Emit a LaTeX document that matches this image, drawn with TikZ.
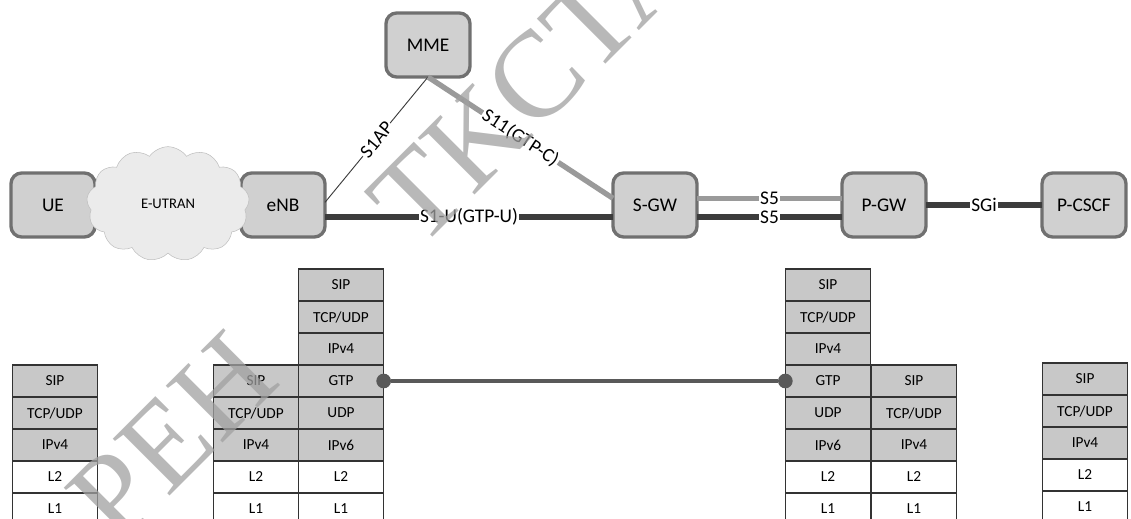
\documentclass[tikz,border=0pt]{standalone}
\usepackage{fontspec}
\setmainfont{Carlito}
\newfontfamily\markfont{Liberation Serif}
\usetikzlibrary{positioning,shapes.symbols}
\definecolor{boxgray}{HTML}{D0D0D0}
\definecolor{edgegray}{HTML}{707070}
\definecolor{layergray}{HTML}{C8C8C8}
\definecolor{darkline}{HTML}{3C3C3C}
\definecolor{lightline}{HTML}{9A9A9A}
\definecolor{markgray}{HTML}{A0A0A0}
\tikzset{
  elem/.style={draw=edgegray,fill=boxgray,line width=2.5pt,rounded corners=8pt,minimum width=63pt,minimum height=48pt,font=\fontsize{14.5}{16}\selectfont,outer sep=0pt},
  layer/.style={draw=black!80,fill=layergray,line width=1pt,minimum width=64pt,minimum height=24pt,inner sep=0pt,outer sep=0pt,font=\fontsize{11.5}{12}\selectfont},
  low/.style={layer,fill=white},
  lbl/.style={fill=white,inner sep=1pt,font=\fontsize{14.5}{16}\selectfont},
  dark/.style={draw=darkline,line width=4pt},
  pale/.style={draw=lightline,line width=4pt},
  wmark/.style={text=markgray,opacity=.75,rotate=45,inner sep=0pt,font=\fontsize{92}{92}\markfont}
}
\begin{document}
\begin{tikzpicture}[x=0.75pt,y=-0.75pt,node distance=0pt]
\clip (0,0) rectangle (1131,518);
\node[elem] (UE) at (53,205) {UE};
\node[elem] (eNB) at (283,205) {eNB};
\node[elem] (MME) at (428,45) {MME};
\node[elem] (SGW) at (655,205) {S-GW};
\node[elem] (PGW) at (884,205) {P-GW};
\node[elem] (CSCF) at (1084,205) {P-CSCF};
\node[cloud,cloud puffs=13,cloud puff arc=110,aspect=1.6,draw=black!25,fill=black!8,minimum width=122pt,minimum height=86pt,inner sep=0pt,font=\fontsize{11}{12}\selectfont] (RAN) at (168,204) {E-UTRAN};

\draw[draw=darkline,line width=.7pt] (MME.south) -- node[lbl,sloped] {S1AP} ([yshift=2pt]eNB.east);
\draw[pale] (MME.south) -- node[lbl,sloped] {S11(GTP-C)} ([yshift=5pt]SGW.west);
\draw[dark] ([yshift=-9pt]eNB.east) -- node[lbl] {S1-U(GTP-U)} ([yshift=-9pt]SGW.west);
\draw[pale] ([yshift=5pt]SGW.east) -- node[lbl] {S5} ([yshift=5pt]PGW.west);
\draw[dark] ([yshift=-9pt]SGW.east) -- node[lbl] {S5} ([yshift=-9pt]PGW.west);
\draw[dark] (PGW) -- node[lbl] {SGi} (CSCF);

% UE
\node[layer] (ua) at (55,381) {SIP};
\node[layer,below=of ua] (ub) {TCP/UDP};
\node[layer,below=of ub] (uc) {IPv4};
\node[low,below=of uc] (ud) {L2};
\node[low,below=of ud] (ue) {L1};

% eNB
\node[layer] (ea) at (256,381) {SIP};
\node[layer,below=of ea] (eb) {TCP/UDP};
\node[layer,below=of eb] (ec) {IPv4};
\node[low,below=of ec] (ed) {L2};
\node[low,below=of ed] (ee) {L1};
\node[layer] (fd) at (341,381) {GTP};
\node[layer,above=of fd] (fc) {IPv4};
\node[layer,above=of fc] (fb) {TCP/UDP};
\node[layer,above=of fb] (fa) {SIP};
\node[layer,below=of fd] (fe) {UDP};
\node[layer,below=of fe] (ff) {IPv6};
\node[low,below=of ff] (fg) {L2};
\node[low,below=of fg] (fh) {L1};

% S-GW
\node[layer] (gd) at (828,381) {GTP};
\node[layer,above=of gd] (gc) {IPv4};
\node[layer,above=of gc] (gb) {TCP/UDP};
\node[layer,above=of gb] (ga) {SIP};
\node[layer,below=of gd] (ge) {UDP};
\node[layer,below=of ge] (gf) {IPv6};
\node[low,below=of gf] (gg) {L2};
\node[low,below=of gg] (gh) {L1};
\node[layer] (ha) at (914,381) {SIP};
\node[layer,below=of ha] (hb) {TCP/UDP};
\node[layer,below=of hb] (hc) {IPv4};
\node[low,below=of hc] (hd) {L2};
\node[low,below=of hd] (he) {L1};

% P-CSCF
\node[layer] (pa) at (1085,379) {SIP};
\node[layer,below=of pa] (pb) {TCP/UDP};
\node[layer,below=of pb] (pc) {IPv4};
\node[low,below=of pc] (pd) {L2};
\node[low,below=of pd] (pe) {L1};

\node[circle,fill=black!65,minimum size=11pt,inner sep=0pt] (dotA) at (fd.east) {};
\node[circle,fill=black!65,minimum size=11pt,inner sep=0pt] (dotB) at (gd.west) {};
\draw[draw=black!65,line width=3.5pt] (dotA) -- (dotB);

\node[wmark,anchor=base west] (wmA) at (419,251) {TKCTA};
\node[wmark,anchor=base east] (wmB) at (283,383) {PEH};
\end{tikzpicture}
\end{document}
